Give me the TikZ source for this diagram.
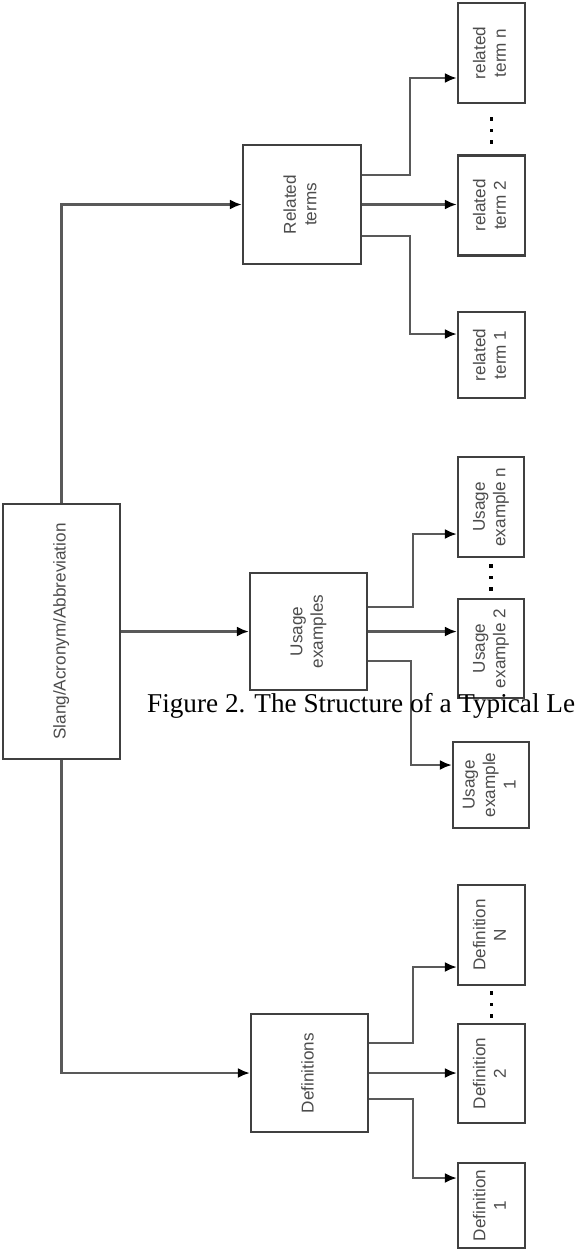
\documentclass[tikz,border=0pt]{standalone}
\usepackage{fontspec}
\setmainfont{Liberation Serif}
\setsansfont{Liberation Sans}
\usetikzlibrary{positioning,arrows.meta}
\newcommand{\vlabel}[1]{\rotatebox{90}{\begin{tabular}{@{}c@{}}#1\end{tabular}}}

\begin{document}
\begin{tikzpicture}[x=1bp,y=-1bp]
            \tikzset{
                box/.style={draw=black!75, line width=2.3bp, fill=white, inner sep=0pt,
                    text=black!70, font=\sffamily\fontsize{17.2}{20.5}\selectfont},
                leaf/.style={box, minimum width=67bp, minimum height=100bp},
                link/.style={draw=black!65, line width=2.2bp, -{Latex[length=12bp,width=10bp,color=black]}},}
            \clip (0,0) rectangle (578,1250);
            \fill[white] (0,0) rectangle (578,1250);
            % root and the three groups
            \node[box, minimum width=117bp, minimum height=255bp] (root) at (61.5,631.5) {\vlabel{Slang/Acronym/Abbreviation}};
            \node[box, minimum width=118bp, minimum height=119bp] (rel) at (302,204.5) {\vlabel{Related\\terms}};
            \node[box, minimum width=117bp, minimum height=117bp] (use) at (308.5,631.5) {\vlabel{Usage\\examples}};
            \node[box, minimum width=117bp, minimum height=118bp] (defs) at (309.5,1073) {\vlabel{Definitions}};
            % leaves
            \node[leaf] (rtn) at (491.5,53) {\vlabel{related\\term n}};
            \node[leaf] (rt2) at (491.5,205.5) {\vlabel{related\\term 2}};
            \node[leaf, minimum height=86bp] (rt1) at (491.5,355) {\vlabel{related\\term 1}};
            \node[leaf, minimum width=66bp] (uen) at (491,507) {\vlabel{Usage\\example n}};
            \node[leaf, minimum width=66bp, minimum height=99bp] (ue2) at (491,648.5) {\vlabel{Usage\\example 2}};
            \node[leaf, minimum width=76bp, minimum height=86bp] (ue1) at (491,785) {\vlabel{Usage\\example\\1}};
            \node[leaf] (defN) at (491.5,935) {\vlabel{Definition\\N}};
            \node[leaf, minimum height=99bp] (def2) at (491.5,1073.5) {\vlabel{Definition\\2}};
            \node[leaf, minimum height=85bp] (def1) at (491.5,1205.5) {\vlabel{Definition\\1}};
            % connectors
            \draw[link] (root.north) |- (rel.west);
            \draw[link] (root.east) -- (use.west);
            \draw[link] (root.south) |- (defs.west);
            \draw[link] ([yshift=29.5bp]rel.east) -- ++(48,0) |- ([yshift=-25bp]rtn.west);
            \draw[link] (rel.east) -- (rel.east -| rt2.west);
            \draw[link] ([yshift=-31.5bp]rel.east) -- ++(48,0) |- ([yshift=21bp]rt1.west);
            \draw[link] ([yshift=24.5bp]use.east) -- ++(45,0) |- ([yshift=-27bp]uen.west);
            \draw[link] (use.east) -- (use.east -| ue2.west);
            \draw[link] ([yshift=-29.5bp]use.east) -- ++(43,0) |- ([yshift=20bp]ue1.west);
            \draw[link] ([yshift=30bp]defs.east) -- ++(44,0) |- ([yshift=-32bp]defN.west);
            \draw[link] (defs.east) -- (defs.east -| def2.west);
            \draw[link] ([yshift=-26bp]defs.east) -- ++(44,0) |- ([yshift=27.5bp]def1.west);
            % the dots between the last two leaves
            \foreach \n/\o in {rtn/15, uen/8, defN/7}
                \foreach \k in {0,1,2}
                    \fill ([yshift={-(\o+11.5*\k)*1bp}]\n.south) ++(-1.8,-1.8) rectangle ++(3.6,3.6);
            \node[anchor=base west, inner sep=0pt, font=\fontsize{27.3}{32}\selectfont] (cap) at (147,712) {Figure 2. The Structure of a Typical Le};
        \end{tikzpicture}
\end{document}
